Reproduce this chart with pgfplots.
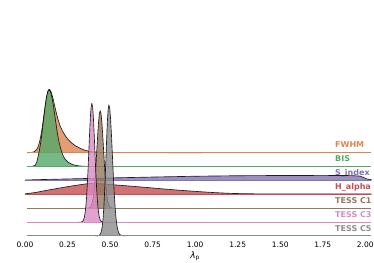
\documentclass[border=0pt]{standalone}
\usepackage{fontspec}
\setmainfont{DejaVu Sans}
\usepackage{pgfplots}
\usepackage{pgfplotstable}
\pgfplotsset{compat=1.18}
\definecolor{cO}{HTML}{DD8452}
\definecolor{cG}{HTML}{55A868}
\definecolor{cP}{HTML}{8172B3}
\definecolor{cR}{HTML}{C44E52}
\definecolor{cB}{HTML}{937860}
\definecolor{cK}{HTML}{DA8BC3}
\definecolor{cY}{HTML}{8C8C8C}
\tikzset{
  ridge/.style={fill=#1, fill opacity=0.8, draw=black, draw opacity=0.85, line width=0.65pt, line join=round},
  base/.style={#1, line width=0.8pt},
  lab/.style={anchor=base west, text=#1, font=\bfseries\fontsize{8}{9}\selectfont},
}

\pgfplotstableread{
x h
0.012 0
0.032 0.1
0.052 0.8
0.067 2.9
0.0745 5
0.082 8.6
0.0895 13.7
0.097 20.6
0.1045 29.1
0.112 38.5
0.1195 47.9
0.127 56
0.1345 61.5
0.142 63.5
0.152 61.5
0.162 56
0.169 51
0.176 45.7
0.184 40
0.192 34.5
0.205 27.4
0.220 21.8
0.235 17.4
0.252 13.4
0.272 10
0.292 7.4
0.322 4.6
0.352 2.4
0.392 0.9
0.432 0.4
0.512 0.15
0.612 0.05
1.042 0
}\tabFWHM

\pgfplotstableread{
x h
0.012 0
0.029 0.05
0.045 0.3
0.061 1.5
0.069 4.5
0.077 10.0
0.085 16.67
0.093 25.0
0.101 35.25
0.109 46.70
0.117 58.12
0.125 67.95
0.133 74.63
0.141 77
0.1505 74.63
0.160 67.95
0.1695 58.12
0.179 46.70
0.1885 35.5
0.198 26
0.2075 19.5
0.217 14
0.2265 10
0.236 7.3
0.252 4.5
0.272 2.6
0.292 1.4
0.322 0.6
0.362 0.2
0.412 0.05
0.462 0
}\tabBIS

\pgfplotstableread{
x h
0.000 0
0.002 0.5
0.112 1.0
0.262 1.6
0.512 2.6
0.762 3.5
1.012 4.3
1.262 4.8
1.512 5.0
1.762 5.1
1.920 4.9
1.970 4.4
1.990 3.0
2.010 1.5
2.035 0.8
2.035 0
}\tabS

\pgfplotstableread{
x h
0.000 0
0.002 0.5
0.062 1.8
0.112 3.5
0.162 5
0.212 6.5
0.262 8
0.312 9.3
0.362 10.5
0.392 11
0.432 10.7
0.512 9.6
0.612 8.3
0.712 6.9
0.812 5.4
0.912 4.0
1.012 2.8
1.112 1.7
1.212 0.9
1.312 0.5
1.512 0.35
1.762 0.3
2.035 0.3
2.035 0
}\tabH

\pgfplotstableread{
x h
0.352 0
0.3636 0.03
0.3734 0.21
0.3832 1.08
0.3881 2.23
0.3930 4.28
0.3979 7.77
0.4028 13.21
0.4077 21.13
0.4126 31.69
0.4175 44.68
0.4224 59.19
0.4273 73.67
0.4322 86.13
0.4371 94.59
0.4420 97.6
0.4469 94.59
0.4518 86.13
0.4567 73.67
0.4616 59.19
0.4665 44.68
0.4714 31.69
0.4763 21.13
0.4812 13.21
0.4861 7.77
0.4910 4.28
0.4959 2.23
0.5008 1.08
0.5106 0.21
0.5204 0.03
0.532 0
}\tabCa

\pgfplotstableread{
x h
0.312 0
0.3226 0.04
0.3314 0.26
0.3402 1.32
0.3446 2.71
0.3490 5.22
0.3534 9.47
0.3578 16.10
0.3622 25.76
0.3666 38.64
0.3710 54.48
0.3754 72.17
0.3798 89.82
0.3842 105.02
0.3886 115.33
0.3930 119
0.3974 115.33
0.4018 105.02
0.4062 89.82
0.4106 72.17
0.4150 54.48
0.4194 38.64
0.4238 25.76
0.4282 16.10
0.4326 9.47
0.4370 5.22
0.4414 2.71
0.4458 1.32
0.4546 0.26
0.4634 0.04
0.472 0
}\tabCb

\pgfplotstableread{
x h
0.412 0
0.4250 0.04
0.4335 0.29
0.4420 1.45
0.4463 2.99
0.4505 5.75
0.4548 10.43
0.4590 17.72
0.4633 28.36
0.4675 42.54
0.4718 59.97
0.4760 79.45
0.4803 98.88
0.4845 115.61
0.4888 126.97
0.4930 131
0.4983 126.97
0.5035 115.61
0.5088 98.88
0.5140 79.45
0.5193 59.97
0.5245 42.54
0.5298 28.36
0.5350 17.72
0.5403 10.43
0.5455 5.75
0.5508 2.99
0.5560 1.45
0.5665 0.29
0.5770 0.06
0.592 0
}\tabCc

\begin{document}
\begin{tikzpicture}
\useasboundingbox (-25pt,-26pt) rectangle (349pt,236pt);
\begin{axis}[
  at={(0,0)}, anchor=south west,
  scale only axis, width=340.3pt, height=236pt,
  xmin=0, xmax=2, ymin=0, ymax=236,
  clip=false,
  axis line style={draw=none},
  major tick length=0pt,
  ytick=\empty,
  xtick={0,0.25,0.5,0.75,1,1.25,1.5,1.75,2},
  xticklabel style={font=\fontsize{7.5}{9}\selectfont, yshift=-2pt,
    /pgf/number format/.cd, fixed, fixed zerofill, precision=2, assume math mode=true},
  xlabel={\textit{λ}\textsubscript{p}},
  xlabel style={font=\fontsize{9}{10}\selectfont, yshift=2pt},
]
% FWHM
\addplot[ridge=cO] table[x=x, y expr=\thisrow{h}+83.3] {\tabFWHM};
\addplot[base=cO] coordinates {(0.01,83.3) (2.035,83.3)};
% BIS
\addplot[ridge=cG] table[x=x, y expr=\thisrow{h}+69.4] {\tabBIS};
\addplot[base=cG] coordinates {(0.01,69.4) (2.035,69.4)};
% S_index
\addplot[ridge=cP] table[x=x, y expr=\thisrow{h}+55.5] {\tabS};
\addplot[base=cP] coordinates {(0,55.5) (2.035,55.5)};
% H_alpha
\addplot[ridge=cR] table[x=x, y expr=\thisrow{h}+41.7] {\tabH};
\addplot[base=cR] coordinates {(0,41.7) (2.035,41.7)};
% TESS C1
\addplot[ridge=cB] table[x=x, y expr=\thisrow{h}+27.7] {\tabCa};
\addplot[base=cB] coordinates {(0.01,27.7) (2.035,27.7)};
% TESS C3
\addplot[ridge=cK] table[x=x, y expr=\thisrow{h}+13.7] {\tabCb};
\addplot[base=cK] coordinates {(0.01,13.7) (2.035,13.7)};
% TESS C5
\addplot[ridge=cY] table[x=x, y expr=\thisrow{h}+0.2] {\tabCc};
\addplot[base=cY] coordinates {(0.01,0.2) (2.035,0.2)};
% labels
\node[lab=cO] at (axis cs:1.8025,88.0) {FWHM};
\node[lab=cG] at (axis cs:1.8025,74.1) {BIS};
\node[lab=cP] at (axis cs:1.8025,60.2) {S\_index};
\node[lab=cR] at (axis cs:1.8025,46.4) {H\_alpha};
\node[lab=cB] at (axis cs:1.8025,32.4) {TESS C1};
\node[lab=cK] at (axis cs:1.8025,18.4) {TESS C3};
\node[lab=cY] at (axis cs:1.8025,4.9) {TESS C5};
\end{axis}
\end{tikzpicture}
\end{document}
